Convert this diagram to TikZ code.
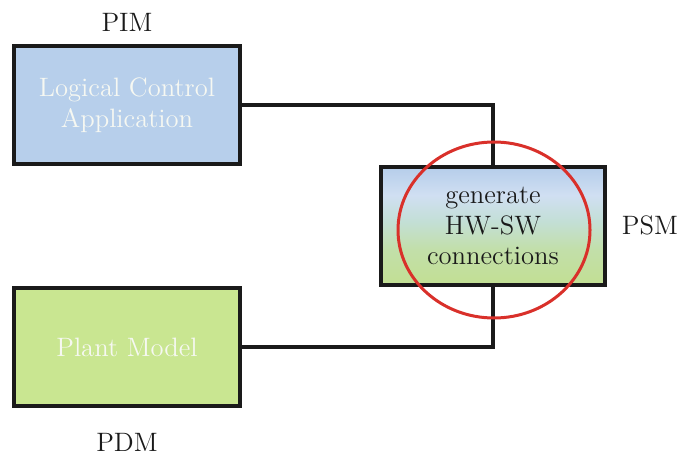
\documentclass[tikz,border=0pt]{standalone}
\usetikzlibrary{shapes.geometric}
\definecolor{pimblue}{HTML}{B7CFEB}
\definecolor{pdmgreen}{HTML}{C9E691}
\definecolor{psmgreen}{HTML}{C2DF96}
\definecolor{psmteal}{HTML}{C3DFD6}
\definecolor{psmlight}{HTML}{D0DFF2}
\definecolor{psmblue}{HTML}{B5CDEA}
\definecolor{boxtext}{HTML}{F6F8F2}
\definecolor{ringred}{HTML}{D9302A}
\definecolor{inkdark}{HTML}{1A1A1A}
% vertical blend for the platform-specific box (path spans 25bp..75bp)
\pgfdeclareverticalshading{psmshade}{100bp}{%
  color(0bp)=(psmgreen); color(27bp)=(psmgreen); color(40bp)=(psmgreen!70!psmteal);
  color(52bp)=(psmteal); color(63bp)=(psmlight); color(75bp)=(psmblue); color(100bp)=(psmblue)}
\begin{document}
\begin{tikzpicture}[x=0.5pt,y=-0.5pt,
  txt/.style={font=\fontsize{13.3}{15.3}\selectfont, align=center},
  modelbox/.style={draw=inkdark, line width=2pt, rectangle, minimum width=113pt,
    minimum height=59pt, inner sep=0pt, txt, text=boxtext},
  tag/.style={txt, text=inkdark},
  wire/.style={draw=inkdark, line width=2pt}]
\useasboundingbox (0,0) rectangle (678,454);
% models
\node[modelbox, fill=pimblue] (lca) at (127,105) {Logical Control\\Application};
\node[modelbox, fill=pdmgreen] (pm) at (127,347) {Plant Model};
\node[modelbox, shading=psmshade, text=inkdark, minimum width=112pt] (psm) at (493,226)
  {generate\\HW-SW\\connections};
% model level tags
\node[tag] (pim) at (127,22) {PIM};
\node[tag] (pdm) at (127,442) {PDM};
\node[tag] (psmtag) at (650,225) {PSM};
% connections
\draw[wire] (lca.east) -| (psm.north);
\draw[wire] (pm.east) -| (psm.south);
% highlight
\node[ellipse, draw=ringred, line width=1.5pt, minimum width=96pt, minimum height=88pt,
  inner sep=0pt] (ring) at (494,230) {};
\end{tikzpicture}
\end{document}
